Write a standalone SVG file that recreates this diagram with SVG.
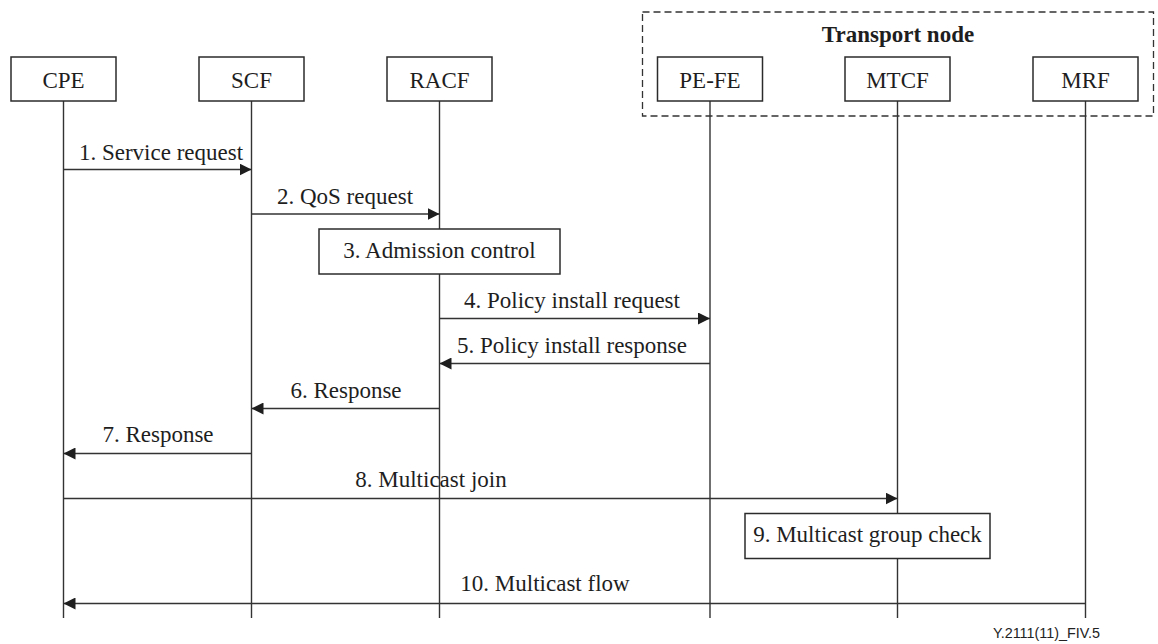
<svg xmlns="http://www.w3.org/2000/svg" width="1158" height="644" viewBox="0 0 1158 644">
  <style>
    .box { fill: #fff; stroke: #2b2b2b; stroke-width: 1.5; }
    .life { stroke: #333; stroke-width: 1.4; fill: none; }
    .msg { stroke: #333; stroke-width: 1.3; fill: none; }
    .lbl { font-family: "Liberation Serif", "Times New Roman", serif; font-size: 23px; fill: #1e1e1e; text-anchor: middle; }
    .title { font-family: "Liberation Serif", "Times New Roman", serif; font-size: 23px; font-weight: bold; fill: #1e1e1e; text-anchor: middle; }
    .ref { font-family: "Liberation Sans", Arial, sans-serif; font-size: 14px; fill: #222; text-anchor: end; }
  </style>
  <defs>
    <marker id="arrow" viewBox="0 0 12 12" refX="12" refY="6" markerWidth="12" markerHeight="12" markerUnits="userSpaceOnUse" orient="auto">
      <path d="M0,0 L12,6 L0,12 Z" fill="#1e1e1e"/>
    </marker>
  </defs>

  <rect width="1158" height="644" fill="#fff"/>

  <!-- transport node grouping -->
  <g id="transport-node">
    <rect x="642.5" y="12" width="511" height="104" fill="none" stroke="#333" stroke-width="1.3" stroke-dasharray="7,4"/>
    <text class="title" x="898" y="42">Transport node</text>
  </g>

  <!-- lifelines -->
  <g id="lifelines">
    <line class="life" x1="63.5" y1="101" x2="63.5" y2="618"/>
    <line class="life" x1="251.5" y1="101" x2="251.5" y2="618"/>
    <line class="life" x1="439.5" y1="101" x2="439.5" y2="618"/>
    <line class="life" x1="710" y1="101" x2="710" y2="618"/>
    <line class="life" x1="897.5" y1="101" x2="897.5" y2="618"/>
    <line class="life" x1="1085.5" y1="101" x2="1085.5" y2="618"/>
  </g>

  <g id="cpe">
    <rect class="box" x="11" y="57" width="105" height="44"/>
    <text class="lbl" x="63.5" y="88">CPE</text>
  </g>
  <g id="scf">
    <rect class="box" x="199" y="57" width="105" height="44"/>
    <text class="lbl" x="251.5" y="88">SCF</text>
  </g>
  <g id="racf">
    <rect class="box" x="387" y="57" width="105" height="44"/>
    <text class="lbl" x="439.5" y="88">RACF</text>
  </g>
  <g id="pe-fe">
    <rect class="box" x="657.5" y="57" width="105" height="44"/>
    <text class="lbl" x="710" y="88">PE-FE</text>
  </g>
  <g id="mtcf">
    <rect class="box" x="845" y="57" width="105" height="44"/>
    <text class="lbl" x="897.5" y="88">MTCF</text>
  </g>
  <g id="mrf">
    <rect class="box" x="1033" y="57" width="105" height="44"/>
    <text class="lbl" x="1085.5" y="88">MRF</text>
  </g>

  <!-- local actions -->
  <g id="admission-control">
    <rect class="box" x="319" y="229" width="241" height="45"/>
    <text class="lbl" x="439.5" y="258">3. Admission control</text>
  </g>
  <g id="group-check">
    <rect class="box" x="745" y="513.5" width="245" height="45"/>
    <text class="lbl" x="867.5" y="542">9. Multicast group check</text>
  </g>

  <!-- messages -->
  <g id="connectors">
    <line class="msg" x1="63.5" y1="169.5" x2="251.5" y2="169.5" marker-end="url(#arrow)"/>
    <line class="msg" x1="251.5" y1="214" x2="439.5" y2="214" marker-end="url(#arrow)"/>
    <line class="msg" x1="439.5" y1="318.5" x2="710" y2="318.5" marker-end="url(#arrow)"/>
    <line class="msg" x1="710" y1="363.5" x2="439.5" y2="363.5" marker-end="url(#arrow)"/>
    <line class="msg" x1="439.5" y1="408.5" x2="251.5" y2="408.5" marker-end="url(#arrow)"/>
    <line class="msg" x1="251.5" y1="453.5" x2="63.5" y2="453.5" marker-end="url(#arrow)"/>
    <line class="msg" x1="63.5" y1="498.5" x2="897.5" y2="498.5" marker-end="url(#arrow)"/>
    <line class="msg" x1="1085.5" y1="603.5" x2="63.5" y2="603.5" marker-end="url(#arrow)"/>
  </g>

  <g id="message-labels">
    <text class="lbl" x="161" y="159.5">1. Service request</text>
    <text class="lbl" x="345" y="204">2. QoS request</text>
    <text class="lbl" x="572" y="307.5">4. Policy install request</text>
    <text class="lbl" x="572" y="352.5">5. Policy install response</text>
    <text class="lbl" x="346" y="398">6. Response</text>
    <text class="lbl" x="158" y="441.5">7. Response</text>
    <text class="lbl" x="431" y="487">8. Multicast join</text>
    <text class="lbl" x="545" y="591">10. Multicast flow</text>
  </g>

  <text class="ref" x="1100" y="638" textLength="107" lengthAdjust="spacingAndGlyphs">Y.2111(11)_FIV.5</text>
</svg>
